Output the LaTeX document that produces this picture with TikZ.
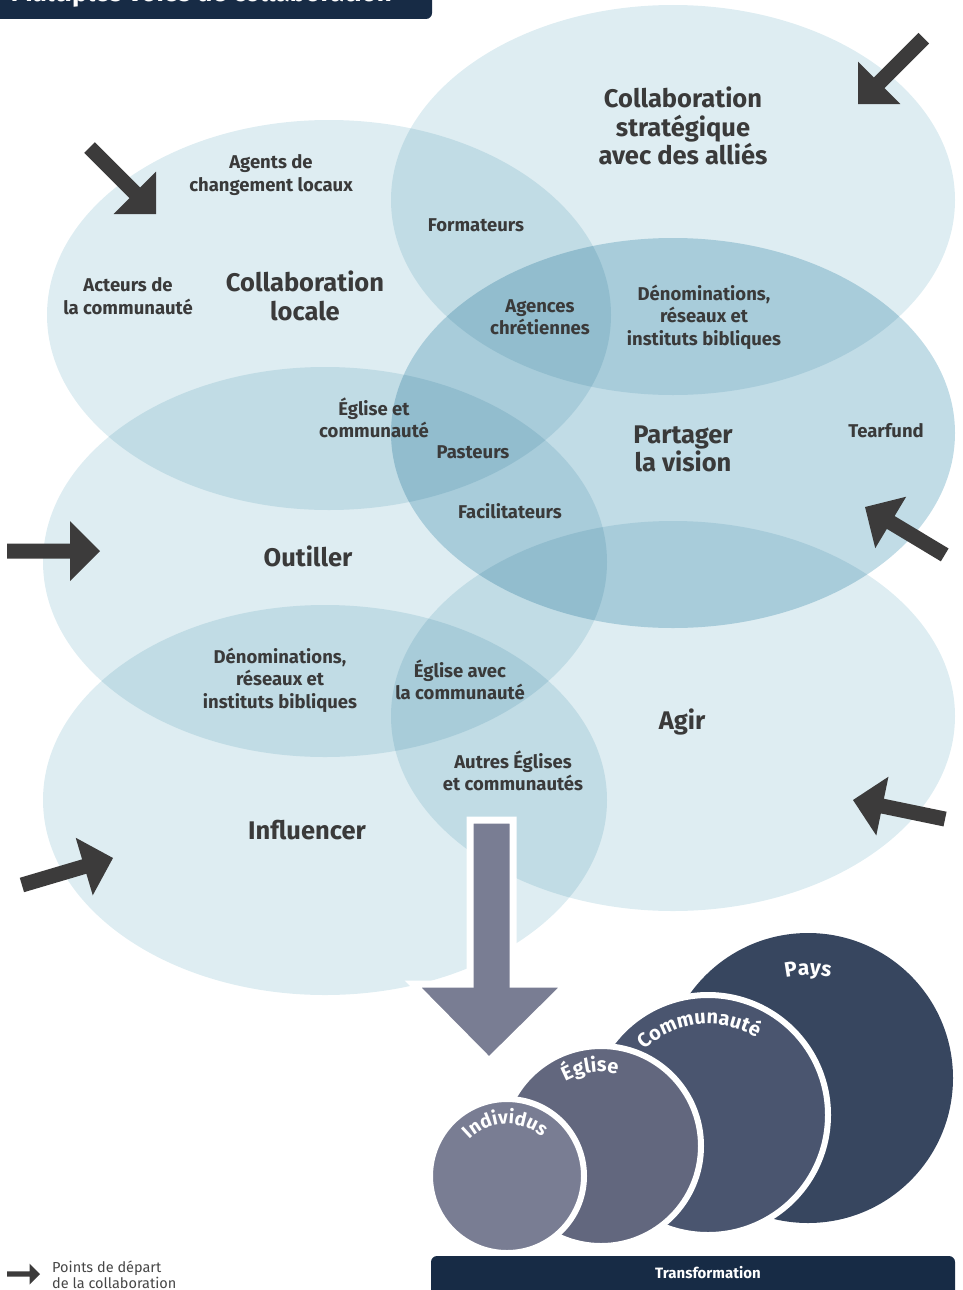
\documentclass[tikz,border=0pt]{standalone}
\usepackage{fontspec}
\setmainfont{Fira Sans}
\usetikzlibrary{shapes.geometric, decorations.text}

\definecolor{zone}{RGB}{222,237,242}
\definecolor{zonedark}{RGB}{193,220,230}
\definecolor{ink}{RGB}{58,58,58}
\definecolor{arrowgray}{RGB}{60,59,59}
\definecolor{navy}{RGB}{23,43,69}
\definecolor{slate}{RGB}{121,125,147}
\definecolor{paysc}{RGB}{55,70,95}
\definecolor{commc}{RGB}{74,85,111}
\definecolor{eglc}{RGB}{98,103,126}
\definecolor{indc}{RGB}{121,125,147}
\definecolor{legendc}{RGB}{70,70,70}

\tikzset{
  zonestyle/.style={ellipse, fill=zone, draw=none, minimum width=564pt, minimum height=390pt, inner sep=0pt, outer sep=0pt},
  lbl/.style={text=ink, font=\bfseries\fontsize{18.5}{22.5}\selectfont, align=center, inner sep=0pt},
  headlbl/.style={text=ink, font=\bfseries\fontsize{25.5}{28.5}\selectfont, align=center, inner sep=0pt},
  ringcircle/.style={circle, draw=white, line width=6pt, inner sep=0pt, outer sep=0pt},
  curvetext/.style 2 args={decorate, decoration={text along path, text align=center, text color=white, text={|\bfseries\fontsize{#1}{#1}\selectfont|#2}}},
}

% start-point arrow: tip x, tip y, rotation, length, scale
\newcommand{\startarrow}[5]{%
  \fill[arrowgray, shift={(#1,#2)}, rotate=#3, scale=#5]
    (0,0) -- (-30,30) -- (-30,7.5) -- (-#4,7.5) -- (-#4,-7.5) -- (-30,-7.5) -- (-30,-30) -- cycle;}

\begin{document}
\begin{tikzpicture}[x=1pt, y=-1pt]
\useasboundingbox (0,0) rectangle (962,1290);
\clip (0,0) rectangle (962,1290);

% title banner (cut at the top)
\fill[navy, rounded corners=6pt] (-20,-40) rectangle (432,19);
\node[anchor=base east, text=white, font=\bfseries\fontsize{26}{26}\selectfont, inner sep=0pt] (title) at (392,2) {Multiples voies de collaboration};

% zones
\begin{scope}[blend mode=multiply]
  \node[zonestyle] (strat) at (673,200) {};
  \node[zonestyle] (local) at (329,315) {};
  \node[zonestyle, fill=zonedark] (vision) at (673,433) {};
  \node[zonestyle] (outil) at (325,562) {};
  \node[zonestyle] (agir) at (673,716) {};
  \node[zonestyle] (influ) at (325,800) {};
\end{scope}

% labels
\node[headlbl] (hstrat) at (683,126) {Collaboration\\stratégique\\avec des alliés};
\node[headlbl] (hlocal) at (305,296) {Collaboration\\locale};
\node[headlbl] (hvision) at (683,449) {Partager\\la vision};
\node[headlbl] (houtil) at (308,556) {Outiller};
\node[headlbl] (hagir) at (682,722) {Agir};
\node[headlbl] (hinflu) at (307,830) {Influencer};

\node[lbl] (agents) at (271,175) {Agents de\\changement locaux};
\node[lbl] (acteurs) at (128,296) {Acteurs de\\la communauté};
\node[lbl] (formateurs) at (476,225) {Formateurs};
\node[lbl] (agences) at (540,317) {Agences\\chrétiennes};
\node[lbl] (denomA) at (704,317) {Dénominations,\\réseaux et\\instituts bibliques};
\node[lbl] (egliseA) at (374,418) {Église et\\communauté};
\node[lbl] (pasteurs) at (473,452) {Pasteurs};
\node[lbl] (tearfund) at (886,431) {Tearfund};
\node[lbl] (facil) at (510,511) {Facilitateurs};
\node[lbl] (denomB) at (280,680) {Dénominations,\\réseaux et\\instituts bibliques};
\node[lbl] (egliseB) at (460,680) {Église avec\\la communauté};
\node[lbl] (autres) at (513,771) {Autres Églises\\et communautés};

% start-point arrows
\startarrow{156}{214}{-45}{94}{1}
\startarrow{858}{104}{-135}{93}{1}
\startarrow{100}{551}{0}{93}{1}
\startarrow{865}{507}{149}{93}{1}
\startarrow{853}{800}{168.3}{94}{1}
\startarrow{113}{858}{16.5}{95}{1}

% big down arrow
\filldraw[fill=slate, draw=white, line width=7pt, line join=miter]
  (470,820) -- (513,820) -- (513,984) -- (567,984) -- (489,1061) -- (413,984) -- (470,984) -- cycle;

% circles
\node[circle, fill=paysc, minimum size=290pt, inner sep=0pt] (pays) at (808,1078) {};
\node[ringcircle, fill=commc, minimum size=240pt] (comm) at (708,1115) {};
\node[ringcircle, fill=eglc, minimum size=200pt] (egl) at (601,1146) {};
\node[ringcircle, fill=indc, minimum size=154pt] (ind) at (507,1176) {};

\path[curvetext={21}{Pays}] (pays.center) ++(-125:103) arc[start angle=-125, end angle=-55, radius=103];
\path[curvetext={20}{Communauté}] (comm.center) ++(-160:91) arc[start angle=-160, end angle=-32, radius=91];
\path[curvetext={20}{Église}] (egl.center) ++(-153:74) arc[start angle=-153, end angle=-43, radius=74];
\path[curvetext={19}{Individus}] (ind.center) ++(-170:52) arc[start angle=-170, end angle=-14, radius=52];

% transformation bar
\fill[navy, rounded corners=6pt] (431,1256) rectangle (955,1310);
\node[text=white, font=\bfseries\fontsize{15}{15}\selectfont, inner sep=0pt] (transf) at (708,1273) {Transformation};

% legend
\startarrow{40}{1274}{0}{94}{0.35}
\node[anchor=west, text=legendc, font=\fontsize{14.5}{16}\selectfont, align=left, inner sep=0pt] (legend) at (52,1275) {Points de départ\\de la collaboration};
\end{tikzpicture}
\end{document}
